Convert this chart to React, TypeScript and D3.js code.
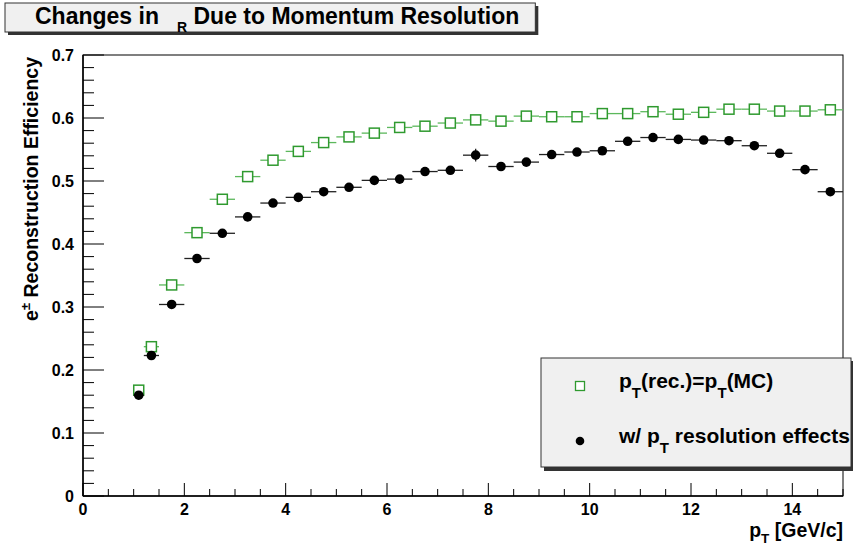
import React, { useLayoutEffect, useRef, useState } from "react";
import * as d3 from "d3";

const binEdges = [1.0, 1.2, 1.5, 2.0, 2.5, 3.0, 3.5, 4.0, 4.5, 5.0, 5.5, 6.0, 6.5, 7.0, 7.5, 8.0, 8.5, 9.0, 9.5, 10.0, 10.5, 11.0, 11.5, 12.0, 12.5, 13.0, 13.5, 14.0, 14.5, 15.0];
const binCenters = [1.1, 1.35, 1.75, 2.25, 2.75, 3.25, 3.75, 4.25, 4.75, 5.25, 5.75, 6.25, 6.75, 7.25, 7.75, 8.25, 8.75, 9.25, 9.75, 10.25, 10.75, 11.25, 11.75, 12.25, 12.75, 13.25, 13.75, 14.25, 14.75];
const effTrue = [0.168, 0.237, 0.335, 0.418, 0.471, 0.507, 0.533, 0.547, 0.561, 0.570, 0.576, 0.585, 0.587, 0.592, 0.597, 0.595, 0.603, 0.602, 0.602, 0.607, 0.607, 0.610, 0.606, 0.609, 0.614, 0.614, 0.611, 0.611, 0.613];
const effSmeared = [0.160, 0.223, 0.304, 0.377, 0.417, 0.443, 0.465, 0.474, 0.483, 0.490, 0.501, 0.503, 0.515, 0.517, 0.541, 0.523, 0.530, 0.542, 0.546, 0.548, 0.563, 0.569, 0.566, 0.565, 0.564, 0.556, 0.544, 0.518, 0.483];
const errSmeared = [0.004, 0.004, 0.004, 0.004, 0.004, 0.004, 0.004, 0.004, 0.004, 0.004, 0.004, 0.004, 0.004, 0.004, 0.010, 0.004, 0.004, 0.004, 0.004, 0.004, 0.004, 0.004, 0.004, 0.004, 0.004, 0.004, 0.004, 0.004, 0.004];
const xTicks = [0, 2, 4, 6, 8, 10, 12, 14];
const yTicks = [0, 0.1, 0.2, 0.3, 0.4, 0.5, 0.6, 0.7];

const W = 853;
const H = 546;
const L = 83, R = 843, T = 55, B = 496;
const FONT = "'Liberation Sans', Arial, Helvetica, sans-serif";
const GREEN = "#2f9a2f";
const GREEN_BAR = "#5cb85c";

export default function App() {
  const x = d3.scaleLinear().domain([0, 15]).range([L, R]);
  const y = d3.scaleLinear().domain([0, 0.7]).range([B, T]);

  const xMinor = d3.range(0, 15.001, 0.5);
  const yMinor = d3.range(0, 0.7001, 0.02);

  const titleRef = useRef<SVGTextElement>(null);
  const [titleEnd, setTitleEnd] = useState(520);
  useLayoutEffect(() => {
    if (titleRef.current) {
      const bb = titleRef.current.getBBox();
      setTitleEnd(bb.x + bb.width);
    }
  }, []);
  const boxRight = titleEnd + 16;

  return (
    <svg width={W} height={H} style={{ position: "absolute", left: 0, top: 0, background: "#fff" }} fontFamily={FONT}>
      <rect x={0} y={0} width={W} height={H} fill="#fff" />
      {/* title box */}
      <rect x={8} y={6} width={boxRight - 5} height={29} fill="#333" />
      <rect x={5} y={3} width={boxRight - 5} height={29} fill="#f0f0f0" stroke="#333" strokeWidth={1} />
      <text ref={titleRef} x={35} y={24} fontSize={23} fontWeight="bold" fill="#000">
        Changes in
        <tspan dx={18} dy={8} fontSize={14}>R</tspan>
        <tspan dy={-8}> Due to Momentum Resolution</tspan>
      </text>

      {/* frame */}
      <rect x={L} y={T} width={R - L} height={B - T} fill="#fff" stroke="#000" strokeWidth={1} />

      {/* y ticks */}
      {yMinor.map((v, i) => (
        <line key={"ym" + i} x1={L} x2={L + (i % 5 === 0 ? 21 : 11)} y1={y(v)} y2={y(v)} stroke="#000" strokeWidth={1} />
      ))}
      {/* x ticks */}
      {xMinor.map((v, i) => (
        <line key={"xm" + i} x1={x(v)} x2={x(v)} y1={B} y2={B - (i % 4 === 0 ? 13 : 7)} stroke="#000" strokeWidth={1} />
      ))}
      <line x1={L} x2={L} y1={T} y2={B} stroke="#000" strokeWidth={1.5} />
      <line x1={L} x2={R} y1={B} y2={B} stroke="#000" strokeWidth={1.5} />

      {/* tick labels */}
      {yTicks.map((v) => (
        <text key={"yl" + v} x={74} y={y(v)} dy="0.36em" textAnchor="end" fontSize={16} fontWeight="bold">
          {v === 0 ? "0" : v.toFixed(1)}
        </text>
      ))}
      {xTicks.map((v) => (
        <text key={"xl" + v} x={x(v)} y={515} textAnchor="middle" fontSize={16} fontWeight="bold">
          {v}
        </text>
      ))}

      {/* axis titles */}
      <text x={843} y={537} textAnchor="end" fontSize={19.5} fontWeight="bold">
        p<tspan dy={6} fontSize={13.5}>T</tspan>
        <tspan dy={-6}> [GeV/c]</tspan>
      </text>
      <text transform={`translate(38,${T + 2}) rotate(-90)`} textAnchor="end" fontSize={19.5} fontWeight="bold">
        e<tspan dy={-8} fontSize={13}>±</tspan>
        <tspan dy={8}> Reconstruction Efficiency</tspan>
      </text>

      {/* green series */}
      {binCenters.map((c, i) => {
        const x0 = x(binEdges[i]);
        const x1 = x(binEdges[i + 1]);
        const cx = x(c);
        const cy = y(effTrue[i]);
        return (
          <g key={"g" + i}>
            {x0 < cx - 5 && <line x1={x0} x2={cx - 5} y1={cy} y2={cy} stroke={GREEN_BAR} strokeWidth={1.3} />}
            {x1 > cx + 5 && <line x1={cx + 5} x2={x1} y1={cy} y2={cy} stroke={GREEN_BAR} strokeWidth={1.3} />}
            <rect x={cx - 5} y={cy - 5} width={10} height={10} fill="#fff" stroke={GREEN} strokeWidth={1.5} />
          </g>
        );
      })}

      {/* black series */}
      {binCenters.map((c, i) => {
        const x0 = x(binEdges[i]);
        const x1 = x(binEdges[i + 1]);
        const cx = x(c);
        const cy = y(effSmeared[i]);
        return (
          <g key={"b" + i}>
            <line x1={x0} x2={x1} y1={cy} y2={cy} stroke="#222" strokeWidth={1.3} />
            <line x1={cx} x2={cx} y1={y(effSmeared[i] - errSmeared[i])} y2={y(effSmeared[i] + errSmeared[i])} stroke="#222" strokeWidth={1.3} />
            <circle cx={cx} cy={cy} r={4.8} fill="#000" />
          </g>
        );
      })}

      {/* legend */}
      <rect x={544} y={361} width={310} height={110} fill="#333" />
      <rect x={541} y={358} width={310} height={109} fill="#f0f0f0" stroke="#333" strokeWidth={1} />
      <rect x={575.5} y={381.5} width={9} height={9} fill="#fff" stroke={GREEN} strokeWidth={1.3} />
      <text x={619} y={388} fontSize={21} fontWeight="bold">
        p<tspan dy={10} fontSize={15}>T</tspan>
        <tspan dy={-10}>(rec.)=p</tspan>
        <tspan dy={10} fontSize={15}>T</tspan>
        <tspan dy={-10}>(MC)</tspan>
      </text>
      <circle cx={580} cy={441} r={4.3} fill="#000" />
      <text x={619} y={443} fontSize={21} fontWeight="bold">
        w/ p<tspan dy={10} fontSize={15}>T</tspan>
        <tspan dy={-10}> resolution effects</tspan>
      </text>
    </svg>
  );
}
